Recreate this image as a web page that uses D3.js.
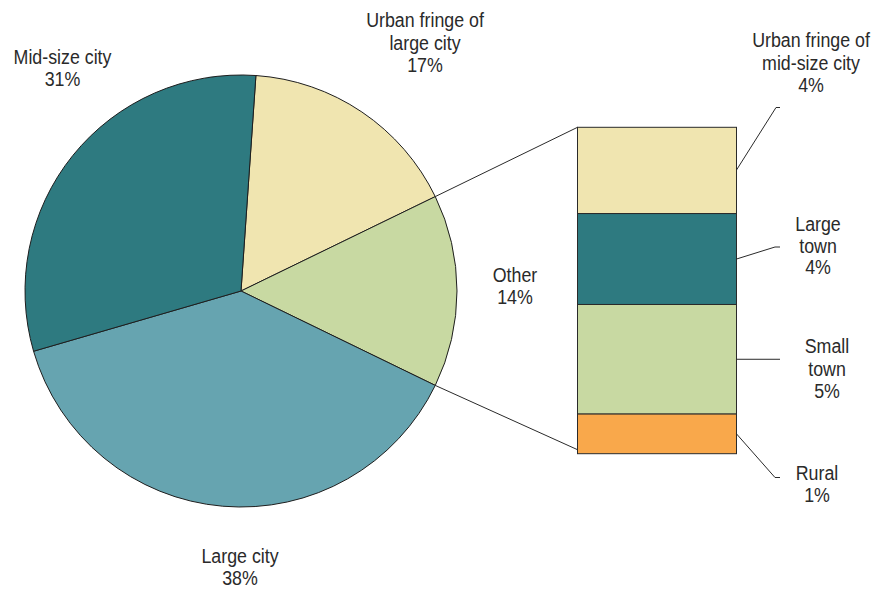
<!DOCTYPE html>
<html>
<head>
<meta charset="utf-8">
<script src="https://cdn.jsdelivr.net/npm/d3@7"></script>
<style>
  html, body { margin: 0; padding: 0; background: #fff; }
  svg text { font-family: "Liberation Sans", Arial, sans-serif; font-size: 20px; fill: #2a2a2a; }
</style>
</head>
<body>
<svg id="chart" width="880" height="590"></svg>
<script>
// ---- data ----
const pieCategories = ["Urban fringe of large city", "Other", "Large city", "Mid-size city"];
const pieValues = [16.7, 14.4, 38.3, 30.6];
const pieLabels = ["17%", "14%", "38%", "31%"];

const otherCategories = ["Urban fringe of mid-size city", "Large town", "Small town", "Rural"];
const otherValues = [3.7, 3.9, 4.7, 1.7];
const otherLabels = ["4%", "4%", "5%", "1%"];

// ---- layout ----
const svg = d3.select("#chart");
const cx = 241, cy = 291, r = 216;
const pieColors = d3.scaleOrdinal().domain(pieCategories)
  .range(["#f0e5b0", "#c8d9a2", "#66a4b0", "#2e7a80"]);
const barColors = d3.scaleOrdinal().domain(otherCategories)
  .range(["#f0e5b0", "#2e7a80", "#c8d9a2", "#f9a84b"]);

const otherIdx = 1;
const total = d3.sum(pieValues);
// rotate so the "Other" slice is centered on the right horizontal
const before = d3.sum(pieValues.slice(0, otherIdx));
const startAngle = Math.PI / 2 - (before + pieValues[otherIdx] / 2) / total * 2 * Math.PI;

const pie = d3.pie().sort(null).value(d => d)
  .startAngle(startAngle).endAngle(startAngle + 2 * Math.PI);
const arcs = pie(pieValues);
const arc = d3.arc().innerRadius(0).outerRadius(r);

const g = svg.append("g").attr("transform", `translate(${cx},${cy})`);
g.selectAll("path").data(arcs).join("path")
  .attr("d", arc)
  .attr("fill", (d, i) => pieColors(pieCategories[i]))
  .attr("stroke", "#1e1e1e")
  .attr("stroke-width", 1)
  .attr("stroke-linejoin", "round");

// ---- stacked bar for "Other" ----
const bx0 = 577.5, bx1 = 736.5, byTop = 127.3, byBot = 453.7;
const y = d3.scaleLinear().domain([0, d3.sum(otherValues)]).range([byTop, byBot]);
let acc = 0;
const stacks = otherValues.map((v, i) => { const s = { i, y0: acc, y1: acc + v }; acc += v; return s; });

svg.append("g").selectAll("rect").data(stacks).join("rect")
  .attr("x", bx0).attr("width", bx1 - bx0)
  .attr("y", d => y(d.y0)).attr("height", d => y(d.y1) - y(d.y0))
  .attr("fill", d => barColors(otherCategories[d.i]))
  .attr("stroke", "#2a2a2a").attr("stroke-width", 1);

// connector lines from the Other slice to the bar
const oa = arcs[otherIdx];
const pt = a => [cx + r * Math.sin(a), cy - r * Math.cos(a)];
const pTop = pt(oa.startAngle), pBot = pt(oa.endAngle);
const lines = svg.append("g").attr("stroke", "#2a2a2a").attr("stroke-width", 1).attr("fill", "none");
lines.append("line").attr("x1", pTop[0]).attr("y1", pTop[1]).attr("x2", bx0).attr("y2", y(0));
lines.append("line").attr("x1", pBot[0]).attr("y1", pBot[1]).attr("x2", bx0).attr("y2", y(d3.sum(otherValues)) - 4);

// leader lines from bar segments to labels
const leaderLayout = [
  { ex: 776, ey: 107.5 },
  { ex: 775, ey: 247 },
  { ex: 780, ey: null },
  { ex: 775, ey: 477.5 }
];
stacks.forEach((s, i) => {
  const L = leaderLayout[i];
  const syy = i === 0 ? 170 : (y(s.y0) + y(s.y1)) / 2;
  const ey = L.ey === null ? syy : L.ey;
  lines.append("path").attr("d", `M${bx1},${syy}L${L.ex},${ey}L780,${ey}`);
});

// ---- labels (condensed look: horizontally scaled text) ----
const sx = 0.89;
function label(x, baselines, linesTxt) {
  const t = svg.append("text").attr("text-anchor", "middle")
    .attr("transform", `translate(${x},0) scale(${sx},1)`);
  linesTxt.forEach((s, k) => t.append("tspan").attr("x", 0).attr("y", baselines[k]).text(s));
}
// pie labels
label(425, [27, 50, 72], ["Urban fringe of", "large city", pieLabels[0]]);
label(515, [282, 304], [pieCategories[1], pieLabels[1]]);
label(240, [563, 585], [pieCategories[2], pieLabels[2]]);
label(62.5, [64, 86], [pieCategories[3], pieLabels[3]]);
// bar labels
label(811, [47, 70, 92], ["Urban fringe of", "mid-size city", otherLabels[0]]);
label(818, [231, 253, 274], ["Large", "town", otherLabels[1]]);
label(827, [353, 376, 398], ["Small", "town", otherLabels[2]]);
label(817, [480, 502], [otherCategories[3], otherLabels[3]]);
</script>
</body>
</html>
